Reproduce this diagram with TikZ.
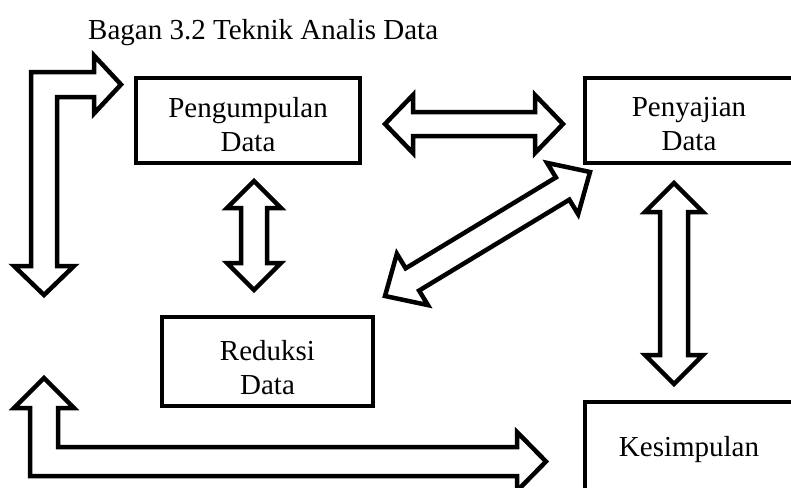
\documentclass[tikz,border=0pt]{standalone}
\usepackage{fontspec}
\setmainfont{Liberation Serif}
\usetikzlibrary{calc}
\tikzset{
  box/.style={draw, line width=4.5pt, inner sep=0pt},
  txt/.style={align=center, inner sep=0pt, font=\fontsize{29}{34}\selectfont},
  barrow/.style={draw, line width=4.5pt, line join=miter, fill=white},
  titletext/.style={anchor=base west, inner sep=0pt, font=\fontsize{29}{34}\selectfont}
}
% double block arrow between two named coordinates:
% #1,#2 tips, #3 head length, #4 head half width, #5 shaft half width
\newcommand{\dblarr}[5]{%
  \path ($(#1)!#3!(#2)$) coordinate (p1) ($(#2)!#3!(#1)$) coordinate (p2);
  \draw[barrow] (#1) -- ($(p1)!#4!90:(#2)$) -- ($(p1)!#5!90:(#2)$)
    -- ($(p2)!#5!-90:(#1)$) -- ($(p2)!#4!-90:(#1)$) -- (#2)
    -- ($(p2)!#4!90:(#1)$) -- ($(p2)!#5!90:(#1)$)
    -- ($(p1)!#5!-90:(#2)$) -- ($(p1)!#4!-90:(#2)$) -- cycle;}
\begin{document}
\begin{tikzpicture}[x=1pt,y=-1pt]
\useasboundingbox (0,0) rectangle (791,487);
\node[titletext] (title) at (88,40) {Bagan 3.2 Teknik Analis Data};
% boxes
\node[box, minimum width=224pt, minimum height=85pt] (peng) at (248,120.5) {};
\node[box, minimum width=208pt, minimum height=85pt] (peny) at (689,120.5) {};
\node[box, minimum width=211pt, minimum height=89pt] (red) at (267.5,361.5) {};
\node[box, minimum width=208pt, minimum height=90pt] (kes) at (689,447) {};
% texts
\node[txt] (pengt) at ($(peng.center)+(0,4)$) {Pengumpulan\\Data};
\node[txt] (penyt) at ($(peny.center)+(0,4)$) {Penyajian\\Data};
\node[txt] (redt) at ($(red.center)+(0,6)$) {Reduksi\\Data};
\node[txt] (kest) at ($(kes.center)+(0,3)$) {Kesimpulan};
% straight double arrows
\coordinate (b1) at (385,124); \coordinate (b2) at (563,124);
\dblarr{b1}{b2}{28pt}{29pt}{12pt}
\coordinate (c1) at (254,181); \coordinate (c2) at (254,290);
\dblarr{c1}{c2}{27pt}{27pt}{13pt}
\coordinate (d1) at (674,183); \coordinate (d2) at (674,384);
\dblarr{d1}{d2}{29pt}{29pt}{14pt}
\coordinate (e1) at (385,296); \coordinate (e2) at (590,172);
\dblarr{e1}{e2}{32pt}{30pt}{13pt}
% bent arrows
\draw[barrow] (44,295) -- (74,266) -- (57,266) -- (57,97) -- (94,97) -- (94,113.5)
  -- (121,84.5) -- (94,55.5) -- (94,72) -- (31,72) -- (31,266) -- (14,266) -- cycle;
\draw[barrow] (44,378) -- (74,408) -- (58,408) -- (58,447) -- (517,447) -- (517,432)
  -- (546,461.5) -- (517,491) -- (517,476) -- (30,476) -- (30,408) -- (14,408) -- cycle;
\end{tikzpicture}
\end{document}
